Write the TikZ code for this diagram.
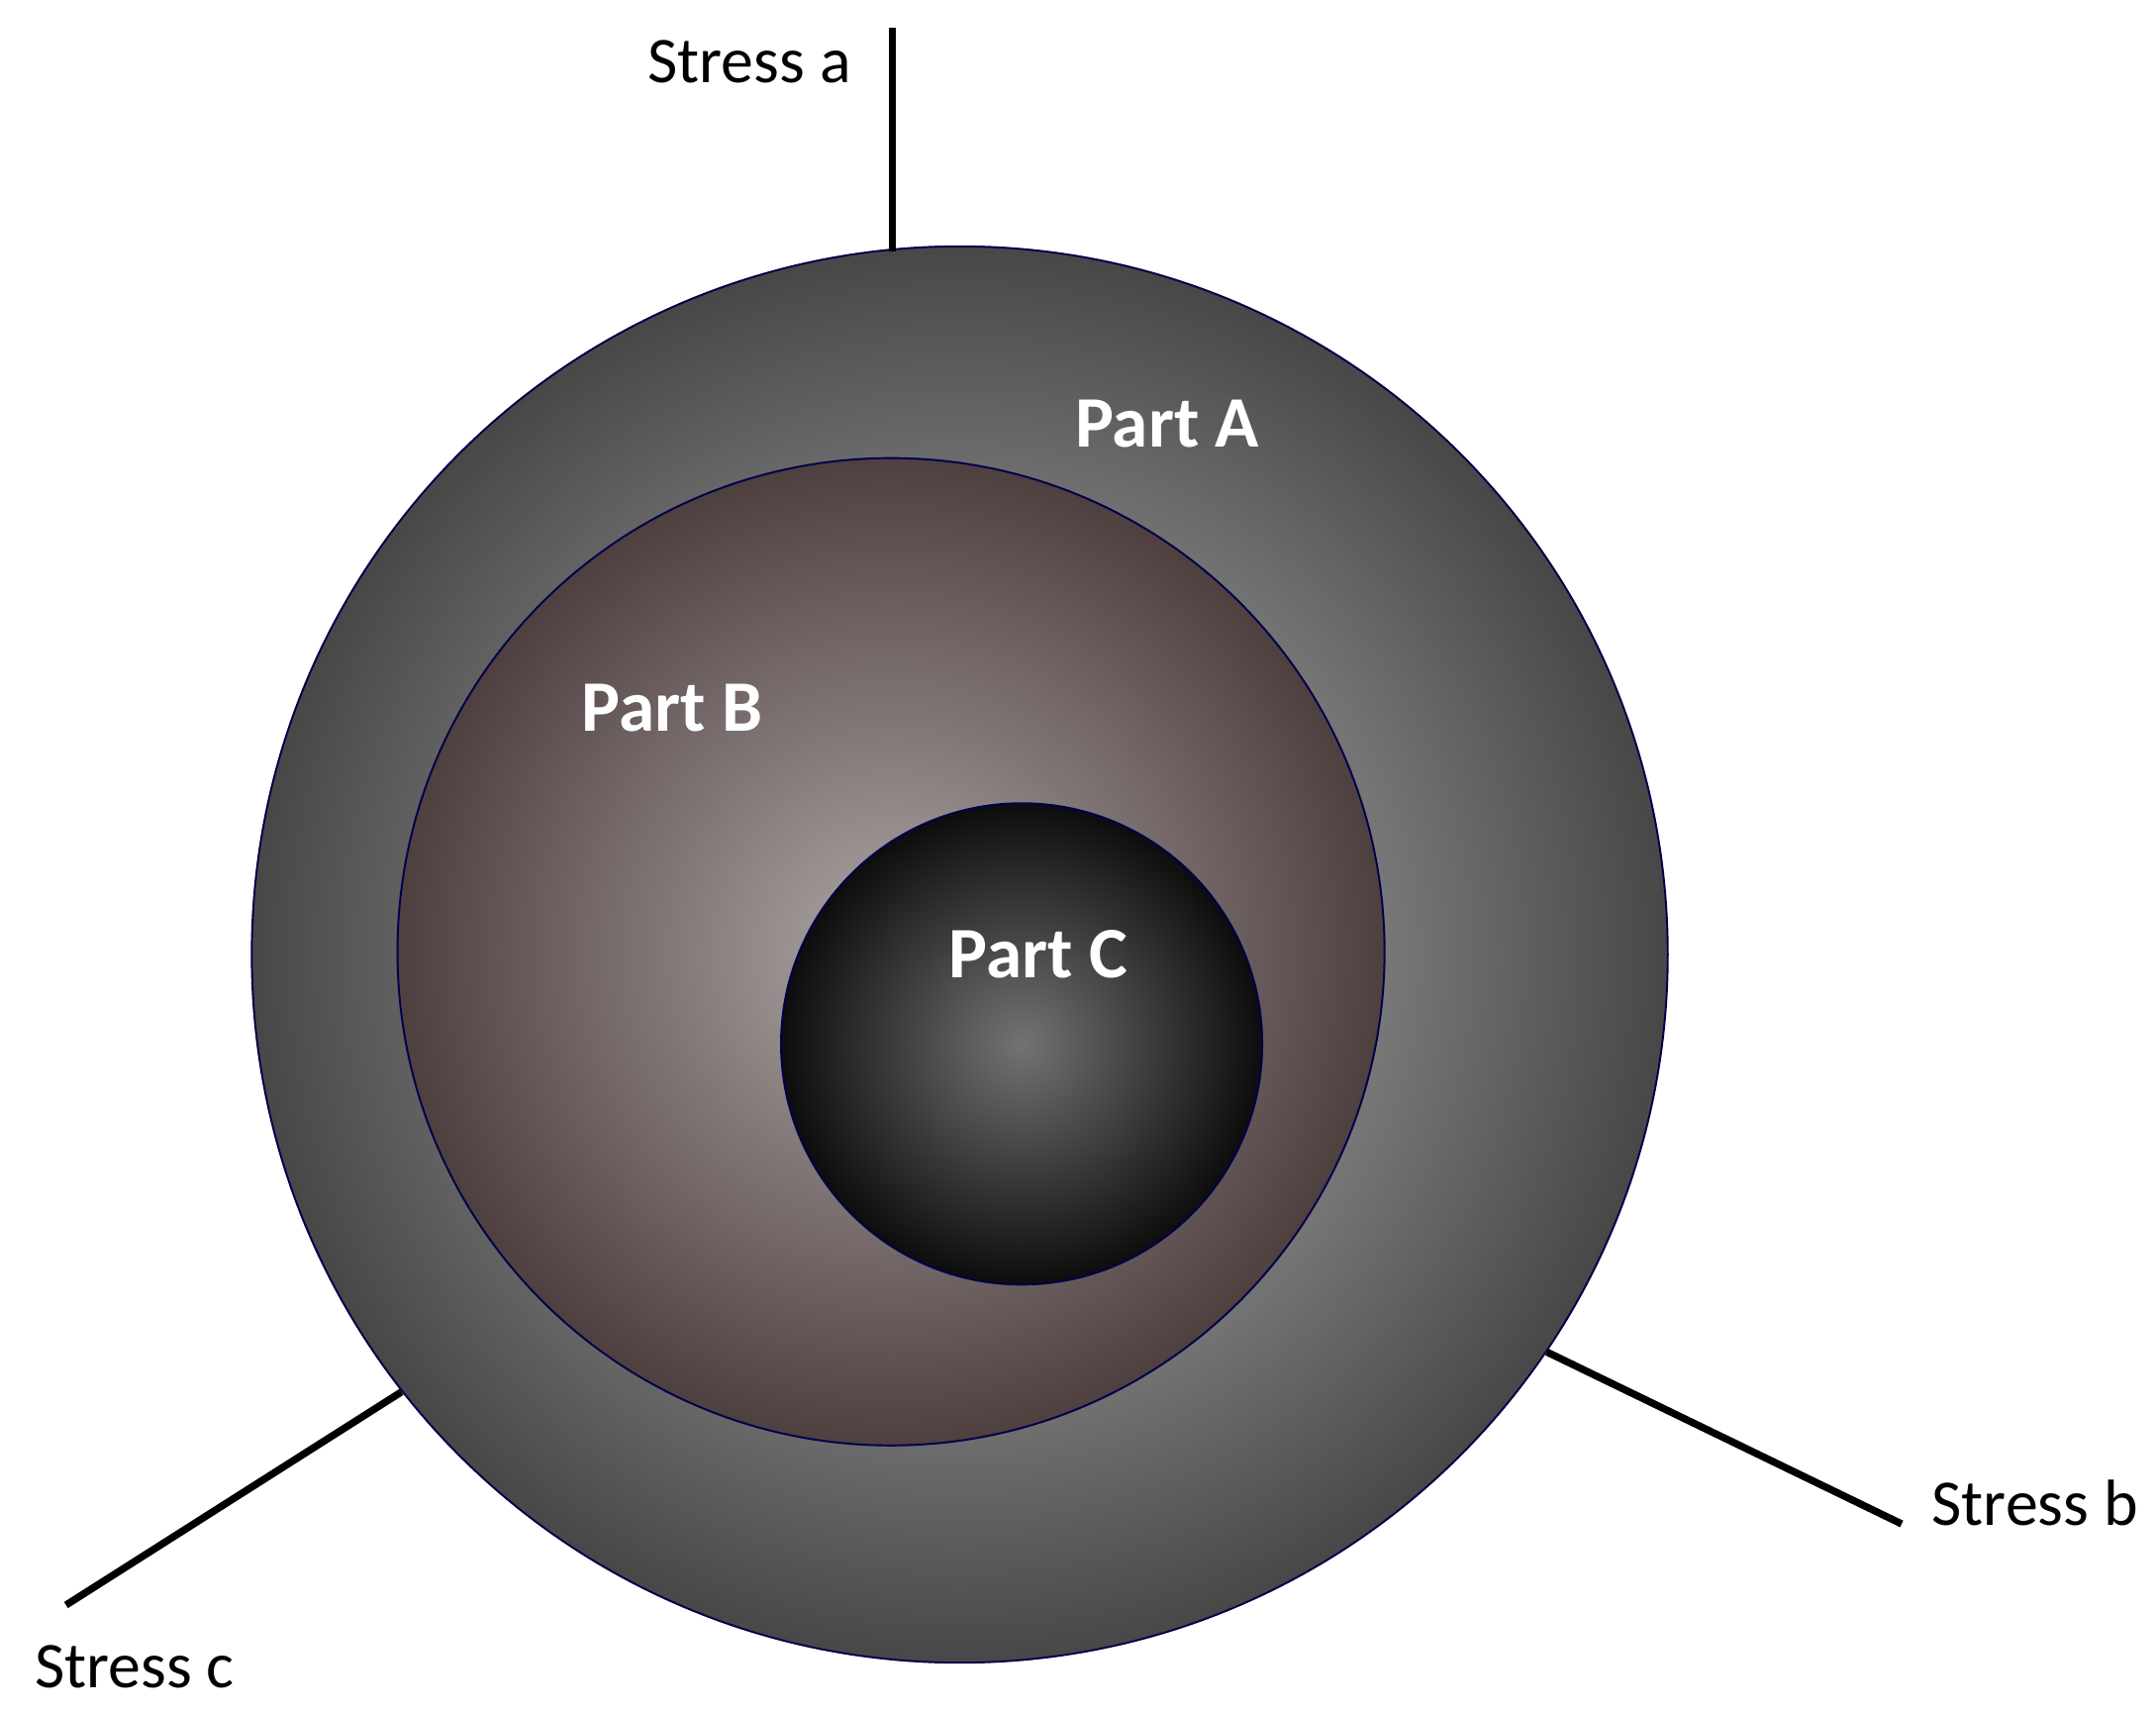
\documentclass[tikz,border=0pt]{standalone}
\usepackage{fontspec}
\setmainfont{Carlito}
\usetikzlibrary{positioning}
\tikzset{
  part/.style={circle, draw=black!70!blue, line width=0.8pt, inner sep=0pt},
  partlabel/.style={text=white, font=\fontsize{30}{36}\selectfont\bfseries},
  stresslabel/.style={font=\fontsize{27}{32}\selectfont},
  stress/.style={line width=3pt, black}
}
\begin{document}
\begin{tikzpicture}[x=0.02cm, y=-0.02cm]
    \useasboundingbox (0,0) rectangle (1568,1244);

    % circles
    \node (outer) [part, minimum size=20.6cm, shading=radial, inner color=black!25, outer color=black!72] at (698,694) {};
    \node (mid) [part, minimum size=14.36cm, shading=radial, inner color=red!8!black!35, outer color=red!8!black!75] at (648,692) {};
    \node (core) [part, minimum size=7cm, shading=radial, inner color=black!55, outer color=black!95] at (743,759) {};

    % labels
    \node (la) [partlabel] at (849,308) {Part A};
    \node (lb) [partlabel] at (489,515) {Part B};
    \node (lc) [partlabel] at (755,694) {Part C};

    % stresses
    \coordinate (a1) at (649,183);
    \coordinate (a2) at (649,20);
    \coordinate (b1) at (1125,983);
    \coordinate (b2) at (1383,1108);
    \coordinate (c1) at (292,1012);
    \coordinate (c2) at (48,1167);
    \draw [stress] (a1) -- (a2);
    \draw [stress] (b1) -- (b2);
    \draw [stress] (c1) -- (c2);
    \node (sa) [stresslabel] at (545,45) {Stress a};
    \node (sb) [stresslabel] at (1480,1093) {Stress b};
    \node (sc) [stresslabel] at (98,1212) {Stress c};
\end{tikzpicture}
\end{document}
